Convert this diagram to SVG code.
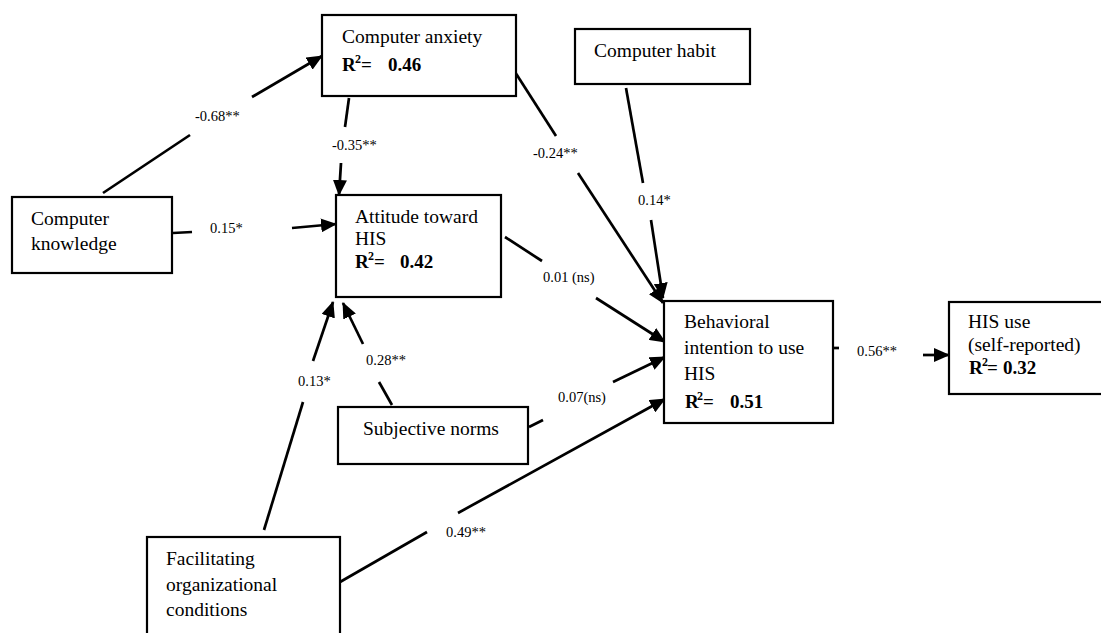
<svg xmlns="http://www.w3.org/2000/svg" width="1101" height="633" viewBox="0 0 1101 633">
<defs>
<style>
.box{fill:#fff;stroke:#000;stroke-width:2.2}
.t{font-family:'Liberation Serif','DejaVu Serif',serif;font-size:19.5px;fill:#000}
.b{font-family:'Liberation Serif','DejaVu Serif',serif;font-size:19px;font-weight:bold;fill:#000}
.sup{font-size:12px}
.lbl{font-family:'Liberation Serif','DejaVu Serif',serif;font-size:14.5px;fill:#000}
.c{stroke:#000;stroke-width:2.7;fill:none}
.a{marker-end:url(#arr)}
</style>
<marker id="arr" markerUnits="userSpaceOnUse" markerWidth="16" markerHeight="14" refX="15" refY="7" orient="auto">
<path d="M0,0 L16,7 L0,14 z" fill="#000"/>
</marker>
</defs>
<rect width="1101" height="633" fill="#fff"/>

<g id="connectors">
<line class="c" x1="103" y1="193" x2="190" y2="135"/>
<line class="c a" x1="252" y1="97" x2="322" y2="56"/>
<text class="lbl" x="195" y="121">-0.68**</text>

<line class="c" x1="349" y1="98" x2="345" y2="127"/>
<line class="c a" x1="341" y1="163" x2="339" y2="195"/>
<text class="lbl" x="332" y="150">-0.35**</text>

<line class="c" x1="173" y1="233" x2="192" y2="232"/>
<line class="c a" x1="292" y1="228" x2="336" y2="224"/>
<text class="lbl" x="210" y="233">0.15*</text>

<line class="c" x1="515" y1="72" x2="556" y2="136"/>
<line class="c a" x1="578" y1="173" x2="663" y2="303"/>
<text class="lbl" x="533" y="158">-0.24**</text>

<line class="c" x1="626" y1="88" x2="643" y2="183"/>
<line class="c a" x1="651" y1="220" x2="663" y2="298"/>
<text class="lbl" x="638" y="205">0.14*</text>

<line class="c" x1="505" y1="237" x2="542" y2="261"/>
<line class="c a" x1="596" y1="298" x2="665" y2="342"/>
<text class="lbl" x="543" y="282">0.01 (ns)</text>

<line class="c" x1="392" y1="405" x2="379" y2="382"/>
<line class="c a" x1="363" y1="344" x2="343" y2="303"/>
<text class="lbl" x="366" y="365">0.28**</text>

<line class="c" x1="264" y1="530" x2="303" y2="402"/>
<line class="c a" x1="313" y1="361" x2="333" y2="302"/>
<text class="lbl" x="298" y="386">0.13*</text>

<line class="c" x1="529" y1="427" x2="543" y2="420"/>
<line class="c a" x1="613" y1="382" x2="665" y2="357"/>
<text class="lbl" x="558" y="402">0.07(ns)</text>

<line class="c" x1="340" y1="582" x2="427" y2="532"/>
<line class="c a" x1="458" y1="513" x2="665" y2="399"/>
<text class="lbl" x="446" y="537">0.49**</text>

<line class="c" x1="833" y1="348" x2="839" y2="348"/>
<line class="c a" x1="923" y1="355" x2="949" y2="355"/>
<text class="lbl" x="857" y="356">0.56**</text>
</g>

<g id="computer-anxiety">
<rect class="box" x="322" y="15" width="194" height="81"/>
<text class="t" x="342" y="43">Computer anxiety</text>
<text class="b" y="71"><tspan x="342">R</tspan><tspan class="sup" x="355" dy="-8">2</tspan><tspan x="361" dy="8">=</tspan><tspan x="388">0.46</tspan></text>
</g>

<g id="computer-habit">
<rect class="box" x="575" y="29" width="175" height="55"/>
<text class="t" x="594" y="57">Computer habit</text>
</g>

<g id="computer-knowledge">
<rect class="box" x="12" y="197" width="160" height="76"/>
<text class="t" x="31" y="225">Computer</text>
<text class="t" x="31" y="250">knowledge</text>
</g>

<g id="attitude">
<rect class="box" x="336" y="195" width="165" height="102"/>
<text class="t" x="355" y="223">Attitude toward</text>
<text class="t" x="355" y="245">HIS</text>
<text class="b" y="268"><tspan x="355">R</tspan><tspan class="sup" x="368" dy="-8">2</tspan><tspan x="374" dy="8">=</tspan><tspan x="400">0.42</tspan></text>
</g>

<g id="subjective-norms">
<rect class="box" x="338" y="407" width="190" height="57"/>
<text class="t" x="363" y="435">Subjective norms</text>
</g>

<g id="facilitating">
<rect class="box" x="147" y="537" width="193" height="110"/>
<text class="t" x="166" y="565">Facilitating</text>
<text class="t" x="166" y="591">organizational</text>
<text class="t" x="166" y="616">conditions</text>
</g>

<g id="behavioral-intention">
<rect class="box" x="664" y="301" width="169" height="122"/>
<text class="t" x="684" y="328">Behavioral</text>
<text class="t" x="684" y="354">intention to use</text>
<text class="t" x="684" y="380">HIS</text>
<text class="b" y="408"><tspan x="685">R</tspan><tspan class="sup" x="697" dy="-8">2</tspan><tspan x="703" dy="8">=</tspan><tspan x="730">0.51</tspan></text>
</g>

<g id="his-use">
<rect class="box" x="949" y="302" width="165" height="92"/>
<text class="t" x="968" y="328">HIS use</text>
<text class="t" x="968" y="351">(self-reported)</text>
<text class="b" y="374"><tspan x="969">R</tspan><tspan class="sup" x="982" dy="-8">2</tspan><tspan x="987" dy="8">=</tspan><tspan x="1003">0.32</tspan></text>
</g>
</svg>
